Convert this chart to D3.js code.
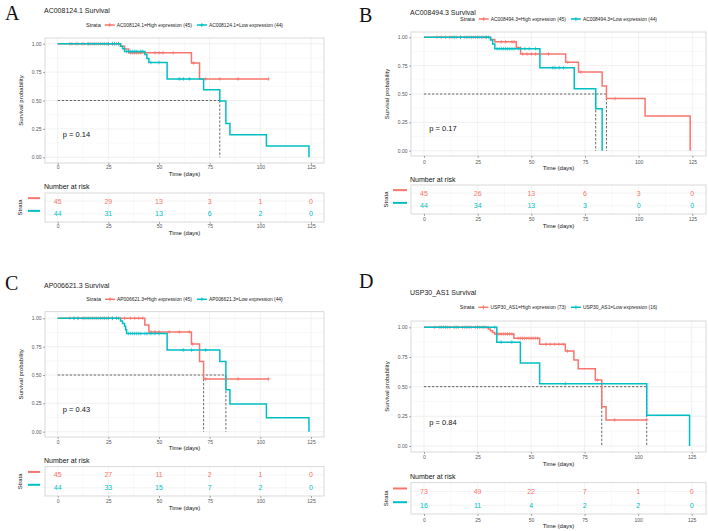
<!DOCTYPE html>
<html>
<head>
<meta charset="utf-8">
<script src="https://cdn.jsdelivr.net/npm/d3@7"></script>
<style>
  body { margin: 0; background: #fff; }
  svg { font-family: "Liberation Sans", Arial, sans-serif; }
</style>
</head>
<body>
<svg></svg>
<script>
const w = 708
const h = 531

const red = '#F8766D'
const teal = '#00BFC4'

// ---- data (time in days, survival probability) ----
const timeTicks = [0, 25, 50, 75, 100, 125]
const survTicks = [0, 0.25, 0.5, 0.75, 1]

// A
const genesA = 'AC008124.1'
const nA = [45, 44]
const highA = [[0,1],[31,0.977],[33,0.954],[35,0.92],[66,0.83],[70,0.69],[104,0.69]]
const lowA = [[0,1],[31,0.977],[32,0.955],[33,0.932],[43,0.905],[44,0.87],[45,0.835],[54,0.69],[72,0.594],[80,0.495],[83,0.297],[85,0.198],[103,0.099],[124,0]]
const censHighA = [6,7,9,10,12,13,15,16,17,19,20,22,24,25,27,28,29,30,36,37,38,39,40,41,48,50,52,57,67,73,80,89,104]
const censLowA = [15,18,21,23,25,27,28,30,34,35,36,37,38,39,41,42,46,50,60,62,65]
const mediansA = [80]
const pA = '0.14'
const riskHighA = [45, 29, 13, 3, 1, 0]
const riskLowA = [44, 31, 13, 6, 2, 0]

// B
const genesB = 'AC008494.3'
const nB = [45, 44]
const highB = [[0,1],[31,0.98],[33,0.96],[43,0.909],[45,0.853],[66,0.78],[72,0.694],[83,0.57],[85,0.46],[103,0.306],[124,0]]
const lowB = [[0,1],[31,0.977],[32,0.94],[33,0.9],[54,0.732],[70,0.547],[80,0.37],[83,0]]
const censHighB = [6,8,10,12,13,15,17,19,21,23,24,26,28,29,36,38,41,42,46,48,50,52,58,67,73,89]
const censLowB = [14,17,20,22,25,27,29,30,34,35,36,37,38,39,40,41,42,44,45,47,49,52,60,61,63,65]
const mediansB = [80, 85]
const pB = '0.17'
const riskHighB = [45, 26, 13, 6, 3, 0]
const riskLowB = [44, 34, 13, 3, 0, 0]

// C
const genesC = 'AP006621.3'
const nC = [45, 44]
const highC = [[0,1],[43,0.94],[45,0.88],[66,0.774],[70,0.62],[72,0.465],[104,0.465]]
const lowC = [[0,1],[31,0.977],[32,0.955],[33,0.93],[33.5,0.9],[34,0.866],[54,0.72],[80,0.62],[83,0.37],[85,0.245],[103,0.123],[124,0]]
const censHighC = [6,8,10,12,14,16,18,20,22,24,27,30,33,36,38,40,42,46,48,50,55,60,65,66.5,73,89,104]
const censLowC = [8,10,13,15,17,19,21,23,25,27,29,35,36,37,38,39,40,41,43,44,46,48,50,62,66,73]
const mediansC = [72, 83]
const pC = '0.43'
const riskHighC = [45, 27, 11, 2, 1, 0]
const riskLowC = [44, 33, 15, 7, 2, 0]

// D
const genesD = 'USP30_AS1'
const nD = [73, 16]
const highD = [[0,1],[30,0.986],[31,0.97],[32,0.957],[33,0.944],[42,0.907],[54,0.857],[66,0.8],[70,0.725],[72,0.65],[80,0.556],[83,0.33],[85,0.22],[104,0.22]]
const lowD = [[0,1],[34,0.875],[45,0.7],[54,0.525],[104,0.26],[124,0]]
const censHighD = [5,7,9,11,12,14,16,18,19,21,22,24,26,27,29,34,35,36,37,38,39,40,41,44,45,46,47,48,49,50,51,52,53,57,59,61,63,65,67,81,89,104]
const censLowD = [8,10,15,20,25,28,33,36,41,66]
const mediansD = [83, 104]
const pD = '0.84'
const riskHighD = [73, 49, 22, 7, 1, 0]
const riskLowD = [16, 11, 4, 2, 2, 0]

// ---- layout ----
const panels = [
  { letter: 'A', gene: genesA, n: nA, high: highA, low: lowA, censHigh: censHighA, censLow: censLowA,
    medians: mediansA, p: pA, riskHigh: riskHighA, riskLow: riskLowA,
    letterX: 5, letterY: 20, titleY: 10, legendY: 25,
    plot: { l: 45, r: 324, t: 38, b: 163 }, x0: 57.7, x125: 311, yTop: 43.7, yBot: 157.3,
    xTickY: 167, xTitleY: 174, yTitleX: 21,
    narY: 186, risk: { t: 193, b: 222 }, riskTickY: 226, riskTitleY: 232.5, strataX: 20, barX: [28, 40] },
  { letter: 'B', gene: genesB, n: nB, high: highB, low: lowB, censHigh: censHighB, censLow: censLowB,
    medians: mediansB, p: pB, riskHigh: riskHighB, riskLow: riskLowB,
    letterX: 359, letterY: 22, titleY: 12, legendY: 19,
    plot: { l: 411, r: 706, t: 32, b: 156 }, x0: 424, x125: 692.3, yTop: 37.3, yBot: 150.7,
    xTickY: 162, xTitleY: 168, yTitleX: 387,
    narY: 179.3, risk: { t: 185, b: 214 }, riskTickY: 219.3, riskTitleY: 226, strataX: 386, barX: [393, 407] },
  { letter: 'C', gene: genesC, n: nC, high: highC, low: lowC, censHigh: censHighC, censLow: censLowC,
    medians: mediansC, p: pC, riskHigh: riskHighC, riskLow: riskLowC,
    letterX: 5, letterY: 290, titleY: 285, legendY: 299.3,
    plot: { l: 45, r: 324, t: 311.7, b: 437 }, x0: 57.7, x125: 311, yTop: 318.3, yBot: 431.7,
    xTickY: 441.7, xTitleY: 448.3, yTitleX: 21,
    narY: 460.7, risk: { t: 466.7, b: 496 }, riskTickY: 501, riskTitleY: 507.7, strataX: 20, barX: [28, 40] },
  { letter: 'D', gene: genesD, n: nD, high: highD, low: lowD, censHigh: censHighD, censLow: censLowD,
    medians: mediansD, p: pD, riskHigh: riskHighD, riskLow: riskLowD,
    letterX: 359, letterY: 288, titleY: 292, legendY: 307.3,
    plot: { l: 411, r: 706, t: 321, b: 452 }, x0: 424, x125: 691.7, yTop: 327.3, yBot: 446,
    xTickY: 457.3, xTitleY: 464.3, yTitleX: 387,
    narY: 476.7, risk: { t: 482.7, b: 514 }, riskTickY: 520, riskTitleY: 526, strataX: 386, barX: [393, 407] }
]

const svg = d3.select('svg')
  .attr('width', w)
  .attr('height', h)

const survAt = (steps, t) => {
  let s = steps[0][1]
  steps.forEach(d => { if (d[0] <= t) s = d[1] })
  return s
}

const minorOf = ticks => ticks.slice(1).map((d, i) => (d + ticks[i]) / 2)

const drawPanel = P => {
  const g = svg.append('g')
  const xScale = d3.scaleLinear().domain([0, 125]).range([P.x0, P.x125])
  const yScale = d3.scaleLinear().domain([0, 1]).range([P.yBot, P.yTop])
  const pl = P.plot

  // letter
  g.append('text').text(P.letter)
    .attr('x', P.letterX).attr('y', P.letterY)
    .attr('font-family', '"Liberation Serif", "Times New Roman", serif')
    .attr('font-size', 20).attr('fill', '#111')

  // title
  g.append('text').text(P.gene + ' Survival')
    .attr('x', pl.l - 1).attr('y', P.titleY)
    .attr('dominant-baseline', 'central')
    .attr('font-size', 7).attr('fill', '#222')

  // legend
  const leg = g.append('g')
  const items = [
    { label: `${P.gene}=High expression (${P.n[0]})`, color: red },
    { label: `${P.gene}=Low expression (${P.n[1]})`, color: teal }
  ]
  let cx = 0
  const st = leg.append('text').text('Strata').attr('x', cx).attr('y', P.legendY)
    .attr('dominant-baseline', 'central').attr('font-size', 5.5).attr('fill', '#222')
  cx += st.node().getComputedTextLength() + 4
  items.forEach(it => {
    leg.append('line').attr('x1', cx).attr('x2', cx + 10).attr('y1', P.legendY).attr('y2', P.legendY)
      .attr('stroke', it.color).attr('stroke-width', 1.5)
    leg.append('path').attr('d', `M${cx + 3},${P.legendY}h4M${cx + 5},${P.legendY - 2}v4`)
      .attr('stroke', it.color).attr('stroke-width', 0.8)
    cx += 12
    const t = leg.append('text').text(it.label).attr('x', cx).attr('y', P.legendY)
      .attr('dominant-baseline', 'central').attr('font-size', 4.9).attr('fill', '#222')
    cx += t.node().getComputedTextLength() + 5
  })
  const legW = cx - 5
  leg.attr('transform', `translate(${(pl.l + pl.r) / 2 - legW / 2}, 0)`)

  // plot panel grid
  const grid = g.append('g')
  minorOf(timeTicks).forEach(t => grid.append('line')
    .attr('x1', xScale(t)).attr('x2', xScale(t)).attr('y1', pl.t).attr('y2', pl.b)
    .attr('stroke', '#f3f3f3').attr('stroke-width', 0.5))
  minorOf(survTicks).forEach(s => grid.append('line')
    .attr('x1', pl.l).attr('x2', pl.r).attr('y1', yScale(s)).attr('y2', yScale(s))
    .attr('stroke', '#f3f3f3').attr('stroke-width', 0.5))
  timeTicks.forEach(t => grid.append('line')
    .attr('x1', xScale(t)).attr('x2', xScale(t)).attr('y1', pl.t).attr('y2', pl.b)
    .attr('stroke', '#e8e8e8').attr('stroke-width', 0.6))
  survTicks.forEach(s => grid.append('line')
    .attr('x1', pl.l).attr('x2', pl.r).attr('y1', yScale(s)).attr('y2', yScale(s))
    .attr('stroke', '#e8e8e8').attr('stroke-width', 0.6))
  g.append('rect').attr('x', pl.l).attr('y', pl.t).attr('width', pl.r - pl.l).attr('height', pl.b - pl.t)
    .attr('fill', 'none').attr('stroke', '#cfcfcf').attr('stroke-width', 0.8)

  // axes
  const xAxis = d3.axisBottom(xScale).tickValues(timeTicks).tickSize(2).tickPadding(1)
  const xAxisG = g.append('g').attr('transform', `translate(0, ${pl.b})`).call(xAxis)
  xAxisG.select('.domain').remove()
  xAxisG.selectAll('line').attr('stroke', '#555').attr('stroke-width', 0.5)
  xAxisG.selectAll('text').attr('font-size', 5).attr('fill', '#555').attr('dy', null)
    .attr('y', P.xTickY - pl.b).attr('dominant-baseline', 'central')

  const yAxis = d3.axisLeft(yScale).tickValues(survTicks).tickFormat(d3.format('.2f')).tickSize(2).tickPadding(1.5)
  const yAxisG = g.append('g').attr('transform', `translate(${pl.l}, 0)`).call(yAxis)
  yAxisG.select('.domain').remove()
  yAxisG.selectAll('line').attr('stroke', '#555').attr('stroke-width', 0.5)
  yAxisG.selectAll('text').attr('font-size', 5).attr('fill', '#555')

  g.append('text').text('Time (days)')
    .attr('x', (pl.l + pl.r) / 2).attr('y', P.xTitleY)
    .attr('text-anchor', 'middle').attr('dominant-baseline', 'central')
    .attr('font-size', 6).attr('fill', '#111')
  g.append('text').text('Survival probability')
    .attr('transform', `translate(${P.yTitleX}, ${(pl.t + pl.b) / 2}) rotate(-90)`)
    .attr('text-anchor', 'middle').attr('dominant-baseline', 'central')
    .attr('font-size', 6).attr('fill', '#111')

  // median lines
  const medMax = d3.max(P.medians)
  g.append('line').attr('x1', xScale(0)).attr('x2', xScale(medMax))
    .attr('y1', yScale(0.5)).attr('y2', yScale(0.5))
    .attr('stroke', '#444').attr('stroke-width', 0.8).attr('stroke-dasharray', '2.4,1.6')
  P.medians.forEach(m => g.append('line').attr('x1', xScale(m)).attr('x2', xScale(m))
    .attr('y1', yScale(0.5)).attr('y2', yScale(0))
    .attr('stroke', '#444').attr('stroke-width', 0.8).attr('stroke-dasharray', '2.4,1.6'))

  // curves
  const lineGen = d3.line()
    .x(d => xScale(d[0]))
    .y(d => yScale(d[1]))
    .curve(d3.curveStepAfter)
  const series = [
    { steps: P.high, cens: P.censHigh, color: red },
    { steps: P.low, cens: P.censLow, color: teal }
  ]
  series.forEach(s => {
    g.append('path').attr('d', lineGen(s.steps))
      .attr('fill', 'none').attr('stroke', s.color).attr('stroke-width', 1.5)
    g.selectAll(null).data(s.cens).enter().append('path')
      .attr('d', t => {
        const px = xScale(t), py = yScale(survAt(s.steps, t))
        return `M${px - 1.8},${py}h3.6M${px},${py - 1.8}v3.6`
      })
      .attr('stroke', s.color).attr('stroke-width', 0.7)
  })

  // p value
  g.append('text').text('p = ' + P.p)
    .attr('x', xScale(2.5)).attr('y', yScale(0.2))
    .attr('dominant-baseline', 'central')
    .attr('font-size', 7.5).attr('fill', '#111')

  // ---- risk table ----
  const rk = P.risk
  g.append('text').text('Number at risk')
    .attr('x', pl.l - 1).attr('y', P.narY)
    .attr('dominant-baseline', 'central').attr('font-size', 7).attr('fill', '#111')

  const rowScale = d3.scalePoint().domain(['high', 'low']).range([rk.t, rk.b]).padding(0.64)
  const rg = g.append('g')
  minorOf(timeTicks).forEach(t => rg.append('line')
    .attr('x1', xScale(t)).attr('x2', xScale(t)).attr('y1', rk.t).attr('y2', rk.b)
    .attr('stroke', '#f3f3f3').attr('stroke-width', 0.5))
  timeTicks.forEach(t => rg.append('line')
    .attr('x1', xScale(t)).attr('x2', xScale(t)).attr('y1', rk.t).attr('y2', rk.b)
    .attr('stroke', '#ececec').attr('stroke-width', 0.6))
  ;['high', 'low'].forEach(k => rg.append('line')
    .attr('x1', pl.l).attr('x2', pl.r).attr('y1', rowScale(k)).attr('y2', rowScale(k))
    .attr('stroke', '#ececec').attr('stroke-width', 0.6))
  g.append('rect').attr('x', pl.l).attr('y', rk.t).attr('width', pl.r - pl.l).attr('height', rk.b - rk.t)
    .attr('fill', 'none').attr('stroke', '#cfcfcf').attr('stroke-width', 0.8)

  const rows = [
    { key: 'high', vals: P.riskHigh, color: red },
    { key: 'low', vals: P.riskLow, color: teal }
  ]
  rows.forEach(r => {
    g.selectAll(null).data(r.vals).enter().append('text')
      .text(d => d)
      .attr('x', (d, i) => xScale(timeTicks[i]))
      .attr('y', rowScale(r.key))
      .attr('text-anchor', 'middle').attr('dominant-baseline', 'central')
      .attr('font-size', 7).attr('fill', r.color)
    g.append('line').attr('x1', P.barX[0]).attr('x2', P.barX[1])
      .attr('y1', rowScale(r.key) - 3).attr('y2', rowScale(r.key) - 3)
      .attr('stroke', r.color).attr('stroke-width', 2)
  })

  const rxAxis = d3.axisBottom(xScale).tickValues(timeTicks).tickSize(2).tickPadding(1)
  const rxG = g.append('g').attr('transform', `translate(0, ${rk.b})`).call(rxAxis)
  rxG.select('.domain').remove()
  rxG.selectAll('line').attr('stroke', '#555').attr('stroke-width', 0.5)
  rxG.selectAll('text').attr('font-size', 5).attr('fill', '#555').attr('dy', null)
    .attr('y', P.riskTickY - rk.b).attr('dominant-baseline', 'central')

  g.append('text').text('Time (days)')
    .attr('x', (pl.l + pl.r) / 2).attr('y', P.riskTitleY)
    .attr('text-anchor', 'middle').attr('dominant-baseline', 'central')
    .attr('font-size', 6).attr('fill', '#111')
  g.append('text').text('Strata')
    .attr('transform', `translate(${P.strataX}, ${(rk.t + rk.b) / 2}) rotate(-90)`)
    .attr('text-anchor', 'middle').attr('dominant-baseline', 'central')
    .attr('font-size', 6).attr('fill', '#111')
}

panels.forEach(drawPanel)
</script>
</body>
</html>
